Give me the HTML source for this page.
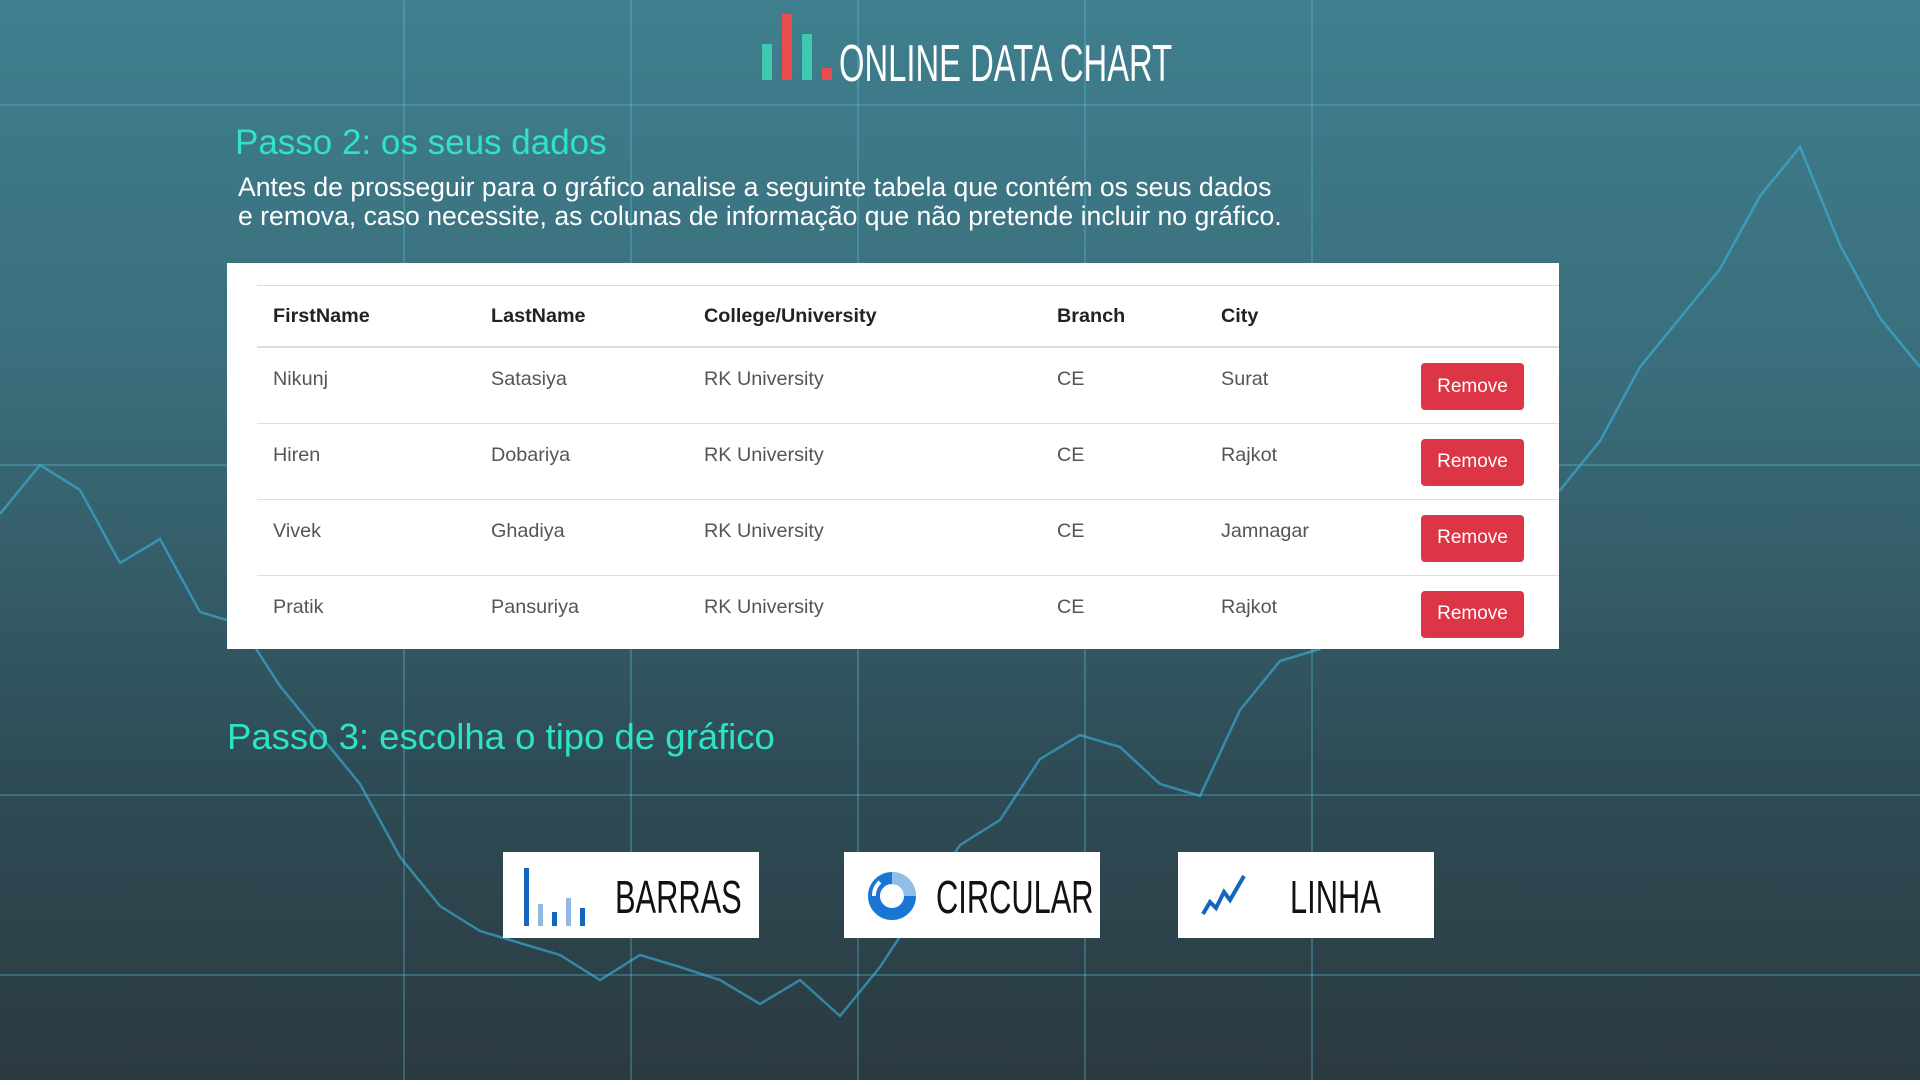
<!DOCTYPE html>
<html><head><meta charset="utf-8">
<style>
html,body{margin:0;padding:0;width:1920px;height:1080px;overflow:hidden;font-family:"Liberation Sans",sans-serif}
#bg{position:absolute;left:0;top:0;width:1920px;height:1080px;background:linear-gradient(180deg,#3f7f8e 0%,#3a6d7b 35%,#2f4d57 70%,#2b3a40 100%)}
.abs{position:absolute}
h2{margin:0;font-weight:normal;color:#2fe3c6}
#desc{left:238px;top:173px;color:#fff;font-size:26.6px;line-height:29px}
#card{left:227px;top:263px;width:1332px;height:386px;background:#fff}
table{position:absolute;left:30px;top:22px;width:1302px;border-collapse:collapse;font-size:19.8px;color:#555}
th{text-align:left;font-weight:bold;color:#222;height:60px;border-top:1px solid #ddd;border-bottom:2px solid #ddd;padding:0 0 0 16px}
td{height:76px;border-bottom:1px solid #ddd;padding:0 0 0 16px;vertical-align:top;padding-top:20px;box-sizing:border-box}
.rm{background:#dc3545;color:#fff;border:0;border-radius:4px;width:103px;height:47px;font-size:19px;font-family:"Liberation Sans",sans-serif;margin-top:-5px}
.cbtn{top:852px;width:256px;height:86px;background:#fff;font-size:46px;color:#111}
.cbtn span{position:absolute;top:18px;transform:scaleX(0.67);transform-origin:0 0;white-space:nowrap}
</style></head><body>
<div id="bg">
<svg width="1920" height="1080" id="bgsvg">
<g stroke="#5fc8e6" stroke-opacity="0.3" stroke-width="2">
<line x1="0" y1="105" x2="1920" y2="105"/><line x1="0" y1="465" x2="1920" y2="465"/><line x1="0" y1="795" x2="1920" y2="795"/><line x1="0" y1="975" x2="1920" y2="975"/>
<line x1="404" y1="0" x2="404" y2="1080"/><line x1="631" y1="0" x2="631" y2="1080"/><line x1="858" y1="0" x2="858" y2="1080"/><line x1="1085" y1="0" x2="1085" y2="1080"/><line x1="1312" y1="0" x2="1312" y2="1080"/>
</g>
<polyline id="bgline" fill="none" stroke="#3ab8e0" stroke-width="2.5" stroke-opacity="0.6"/>
</svg>
</div>
<script>
const bgValues=[514,465,490,563,539,612,624,686,735,784,857,906,931,943,955,980,955,967,980,1004,980,1016,967,906,845,820,759,735,747,784,796,710,661,649,612,588,576,539,514,490,441,367,318,269,196,147,245,318,367];
const pl=document.getElementById('bgline');
pl.setAttribute('points',bgValues.map((v,i)=>(i*40)+','+v).join(' '));
</script>

<svg class="abs" style="left:758px;top:12px" width="84" height="70">
<rect x="4" y="32" width="10" height="36" fill="#3ec9b0"/><rect x="24" y="2" width="10" height="66" fill="#e84c4c"/><rect x="44" y="22" width="10" height="46" fill="#3ec9b0"/><rect x="64" y="56" width="10" height="12" fill="#e84c4c"/>
</svg>
<div class="abs" style="left:839px;top:34px;color:#fff;font-size:52px;line-height:60px;transform:scaleX(0.63);transform-origin:0 0;white-space:nowrap">ONLINE DATA CHART</div>

<h2 class="abs" style="left:235px;top:123px;font-size:35px">Passo 2: os seus dados</h2>
<div class="abs" id="desc">Antes de prosseguir para o gráfico analise a seguinte tabela que contém os seus dados<br>e remova, caso necessite, as colunas de informação que não pretende incluir no gráfico.</div>

<div class="abs" id="card">
<table>
<colgroup><col style="width:218px"><col style="width:213px"><col style="width:353px"><col style="width:164px"><col style="width:200px"><col></colgroup>
<tr><th>FirstName</th><th>LastName</th><th>College/University</th><th>Branch</th><th>City</th><th></th></tr>
<tr><td>Nikunj</td><td>Satasiya</td><td>RK University</td><td>CE</td><td>Surat</td><td><button class="rm">Remove</button></td></tr>
<tr><td>Hiren</td><td>Dobariya</td><td>RK University</td><td>CE</td><td>Rajkot</td><td><button class="rm">Remove</button></td></tr>
<tr><td>Vivek</td><td>Ghadiya</td><td>RK University</td><td>CE</td><td>Jamnagar</td><td><button class="rm">Remove</button></td></tr>
<tr><td style="border:0">Pratik</td><td style="border:0">Pansuriya</td><td style="border:0">RK University</td><td style="border:0">CE</td><td style="border:0">Rajkot</td><td style="border:0"><button class="rm">Remove</button></td></tr>
</table>
</div>

<h2 class="abs" style="left:227px;top:716px;font-size:36.5px">Passo 3: escolha o tipo de gráfico</h2>

<div class="abs cbtn" style="left:503px">
<svg class="abs" style="left:18px;top:16px" width="76" height="60"><rect x="3" y="0" width="5" height="58" fill="#1565c0"/><rect x="17" y="36" width="5" height="22" fill="#90b8e0"/><rect x="31" y="44" width="5" height="14" fill="#1565c0"/><rect x="45" y="30" width="5" height="28" fill="#90b8e0"/><rect x="59" y="40" width="5" height="18" fill="#1565c0"/></svg>
<span style="left:112px">BARRAS</span></div>
<div class="abs cbtn" style="left:844px">
<svg class="abs" style="left:22px;top:18px" width="52" height="52"><circle cx="26" cy="26" r="18" fill="none" stroke="#1976d2" stroke-width="12"/><path d="M26 8 A18 18 0 0 1 44 26" fill="none" stroke="#90c0ea" stroke-width="12"/><path d="M8 26 A18 18 0 0 1 14 12" fill="none" stroke="#fff" stroke-width="4"/></svg>
<span style="left:92px">CIRCULAR</span></div>
<div class="abs cbtn" style="left:1178px">
<svg class="abs" style="left:22px;top:18px" width="50" height="50"><polyline points="3,44 10,32 16,38 24,22 30,30 44,6" fill="none" stroke="#1565c0" stroke-width="4"/></svg>
<span style="left:112px">LINHA</span></div>
</body></html>
